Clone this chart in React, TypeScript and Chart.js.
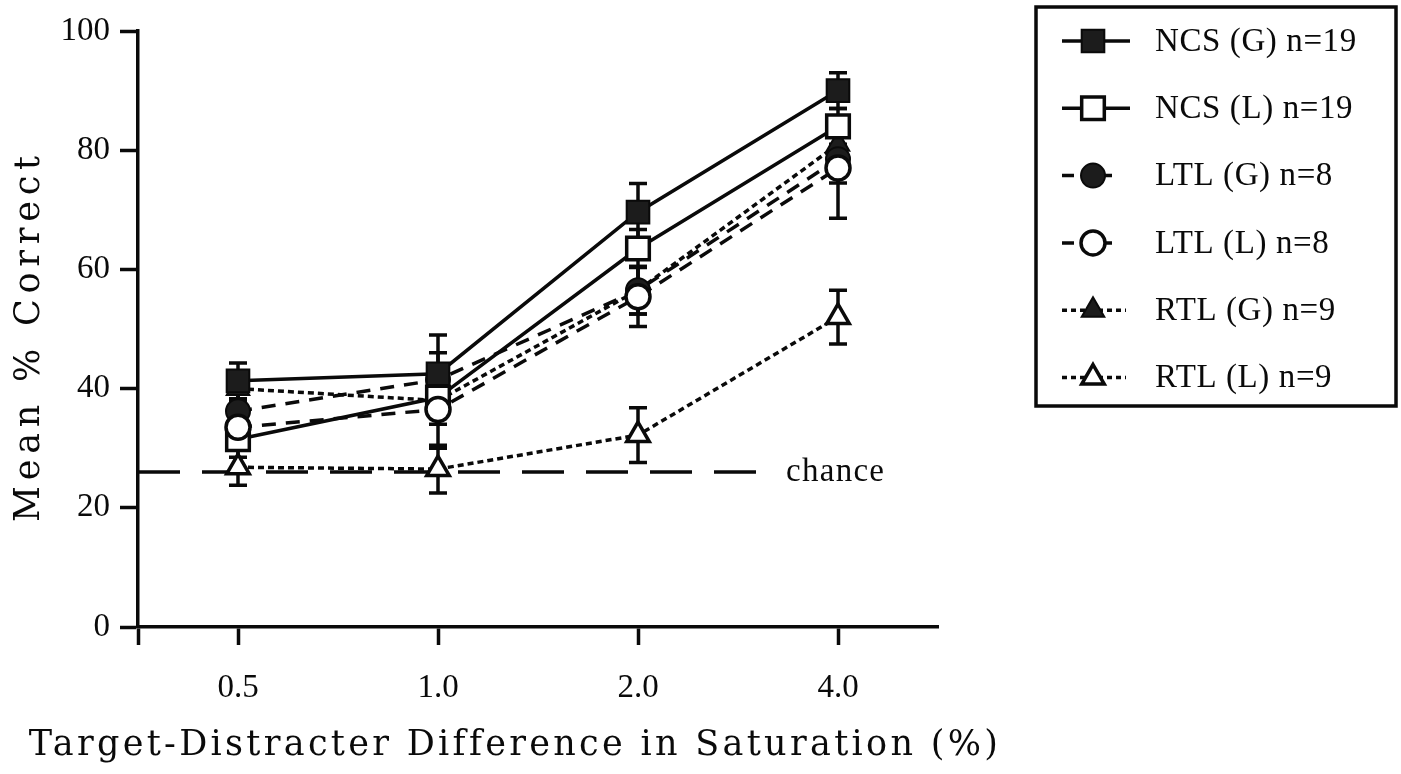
import { useEffect, useRef } from 'react';
import { Chart, registerables } from 'chart.js';

Chart.register(...registerables);

// Saturation differences (%) shown on the x axis
const categories = ['0.5', '1.0', '2.0', '4.0'];

// Mean % correct per group, with ± error
const ncsG = [41.3, 42.5, 69.6, 90.0];
const ncsGErr = [3.0, 3.5, 4.8, 3.0];
const ncsL = [31.5, 38.5, 63.5, 84.0];
const ncsLErr = [3.0, 3.0, 3.2, 3.0];
const ltlG = [36.2, 41.5, 56.5, 78.5];
const ltlGErr = [3.0, 7.5, 4.0, 4.0];
const ltlL = [33.5, 36.5, 55.4, 77.0];
const ltlLErr = [3.5, 6.5, 5.0, 8.4];
const rtlG = [40.0, 38.0, 56.5, 81.0];
const rtlGErr = [2.0, 3.0, 4.0, 3.0];
const rtlL = [26.8, 26.5, 32.2, 52.0];
const rtlLErr = [3.0, 4.0, 4.6, 4.5];

const seriesLabels = [
  'NCS (G) n=19',
  'NCS (L) n=19',
  'LTL (G) n=8',
  'LTL (L) n=8',
  'RTL (G) n=9',
  'RTL (L) n=9',
];

// Chance performance level and the span of its reference line
const chanceLevel = 26;
const chanceSpan = [-0.5, 2.66];

const yTicks = [0, 20, 40, 60, 80, 100];
const xTicks = [-0.5, 0, 1, 2, 3];

const INK = '#0a0a0a';
const SERIF = '"Liberation Serif", "Times New Roman", serif';
const TITLE_SERIF = '"DejaVu Serif", serif';
const LW = 3.5;

const toPoints = (vals: number[]) => vals.map((y, i) => ({ x: i, y }));

type Marker = 'rect' | 'circle' | 'triangle';

function drawMarker(
  ctx: CanvasRenderingContext2D,
  style: Marker,
  x: number,
  y: number,
  r: number,
  fill: string,
  lw: number
) {
  ctx.save();
  ctx.beginPath();
  if (style === 'rect') {
    const s = Math.SQRT1_2 * r;
    ctx.rect(x - s, y - s, 2 * s, 2 * s);
  } else if (style === 'circle') {
    ctx.arc(x, y, r, 0, Math.PI * 2);
  } else {
    let a = 0;
    ctx.moveTo(x + Math.sin(a) * r, y - Math.cos(a) * r);
    a += (2 * Math.PI) / 3;
    ctx.lineTo(x + Math.sin(a) * r, y - Math.cos(a) * r);
    a += (2 * Math.PI) / 3;
    ctx.lineTo(x + Math.sin(a) * r, y - Math.cos(a) * r);
    ctx.closePath();
  }
  ctx.fillStyle = fill;
  ctx.fill();
  ctx.lineWidth = lw;
  ctx.strokeStyle = INK;
  ctx.setLineDash([]);
  ctx.stroke();
  ctx.restore();
}

function fitText(
  ctx: CanvasRenderingContext2D,
  text: string,
  width: number
) {
  (ctx as any).letterSpacing = '0px';
  const w = ctx.measureText(text).width;
  const sp = (width - w) / Math.max(1, text.length - 1);
  (ctx as any).letterSpacing = `${sp}px`;
  return sp;
}

const decorPlugin = {
  id: 'decor',
  beforeDatasetsDraw(chart: any) {
    const { ctx } = chart;
    const xs = chart.scales.x;
    const ys = chart.scales.y;
    ctx.save();
    ctx.strokeStyle = INK;
    ctx.lineWidth = LW;
    ctx.setLineDash([]);
    chart.data.datasets.forEach((ds: any) => {
      if (!ds.errors) return;
      ds.data.forEach((p: any, i: number) => {
        const e = ds.errors[i];
        const px = xs.getPixelForValue(p.x);
        const top = ys.getPixelForValue(p.y + e);
        const bot = ys.getPixelForValue(p.y - e);
        ctx.beginPath();
        ctx.moveTo(px, top);
        ctx.lineTo(px, bot);
        ctx.moveTo(px - 9, top);
        ctx.lineTo(px + 9, top);
        ctx.moveTo(px - 9, bot);
        ctx.lineTo(px + 9, bot);
        ctx.stroke();
      });
    });
    ctx.restore();
  },
  afterDraw(chart: any) {
    const { ctx } = chart;
    const xs = chart.scales.x;
    const ys = chart.scales.y;

    // "chance" label at the end of the chance line
    ctx.save();
    ctx.fillStyle = INK;
    ctx.font = `33px ${SERIF}`;
    ctx.textAlign = 'left';
    ctx.textBaseline = 'middle';
    fitText(ctx, 'chance', 98);
    ctx.fillText(
      'chance',
      xs.getPixelForValue(chanceSpan[1]) + 16,
      ys.getPixelForValue(chanceLevel)
    );
    ctx.restore();

    // Axis titles
    ctx.save();
    ctx.fillStyle = INK;
    ctx.font = `35px ${TITLE_SERIF}`;
    ctx.textAlign = 'center';
    ctx.textBaseline = 'middle';
    const xTitle = 'Target-Distracter Difference in Saturation (%)';
    fitText(ctx, xTitle, 968);
    ctx.fillText(xTitle, 515, 746);
    ctx.restore();

    ctx.save();
    ctx.fillStyle = INK;
    ctx.font = `35px ${TITLE_SERIF}`;
    ctx.textAlign = 'center';
    ctx.textBaseline = 'middle';
    ctx.translate(30, 336);
    ctx.rotate(-Math.PI / 2);
    const yTitle = 'Mean % Correct';
    fitText(ctx, yTitle, 366);
    ctx.fillText(yTitle, 0, 0);
    ctx.restore();

    // Legend box
    ctx.save();
    ctx.strokeStyle = INK;
    ctx.lineWidth = LW;
    ctx.strokeRect(1036, 7, 360, 399);
    const series = chart.data.datasets.filter((d: any) => d.errors);
    series.forEach((ds: any, i: number) => {
      const cy = 41 + i * 67.3;
      const cx = 1093;
      ctx.save();
      ctx.strokeStyle = INK;
      ctx.lineWidth = LW;
      ctx.beginPath();
      if (ds.legendKind === 'solid') {
        ctx.setLineDash([]);
        ctx.moveTo(1062, cy);
        ctx.lineTo(1130, cy);
      } else if (ds.legendKind === 'dashed') {
        ctx.setLineDash([12, 8]);
        ctx.moveTo(1062, cy);
        ctx.lineTo(1112, cy);
      } else {
        ctx.setLineDash([5, 4]);
        ctx.moveTo(1062, cy);
        ctx.lineTo(1126, cy);
      }
      ctx.stroke();
      ctx.restore();
      drawMarker(ctx, ds.pointStyle, cx, cy, ds.pointRadius, ds.pointBackgroundColor, ds.pointBorderWidth);
      ctx.save();
      ctx.fillStyle = INK;
      ctx.font = `33px ${SERIF}`;
      ctx.textAlign = 'left';
      ctx.textBaseline = 'middle';
      (ctx as any).letterSpacing = '0.6px';
      ctx.fillText(ds.label, 1155, cy + 1);
      ctx.restore();
    });
    ctx.restore();
  },
};

export default function App() {
  const canvasRef = useRef<HTMLCanvasElement | null>(null);

  useEffect(() => {
    let chart: Chart | null = null;
    let cancelled = false;

    const build = () => {
      if (cancelled || !canvasRef.current) return;
      const common = {
        borderColor: INK,
        borderWidth: LW,
        pointBorderColor: INK,
        pointHoverRadius: 0,
        fill: false,
        tension: 0,
      };
      chart = new Chart(canvasRef.current, {
        type: 'line',
        data: {
          datasets: [
            {
              ...common,
              label: seriesLabels[0],
              data: toPoints(ncsG),
              errors: ncsGErr,
              legendKind: 'solid',
              pointStyle: 'rect',
              pointRadius: 16,
              pointBackgroundColor: '#1c1c1c',
              pointBorderWidth: 2,
              order: 0,
            },
            {
              ...common,
              label: seriesLabels[1],
              data: toPoints(ncsL),
              errors: ncsLErr,
              legendKind: 'solid',
              pointStyle: 'rect',
              pointRadius: 16,
              pointBackgroundColor: '#ffffff',
              pointBorderWidth: 3.5,
              order: 2,
            },
            {
              ...common,
              label: seriesLabels[2],
              data: toPoints(ltlG),
              errors: ltlGErr,
              legendKind: 'dashed',
              borderDash: [14, 10],
              pointStyle: 'circle',
              pointRadius: 12,
              pointBackgroundColor: '#1c1c1c',
              pointBorderWidth: 2,
              order: 3,
            },
            {
              ...common,
              label: seriesLabels[3],
              data: toPoints(ltlL),
              errors: ltlLErr,
              legendKind: 'dashed',
              borderDash: [14, 10],
              pointStyle: 'circle',
              pointRadius: 12,
              pointBackgroundColor: '#ffffff',
              pointBorderWidth: 3.5,
              order: 1,
            },
            {
              ...common,
              label: seriesLabels[4],
              data: toPoints(rtlG),
              errors: rtlGErr,
              legendKind: 'dotted',
              borderDash: [6, 4],
              pointStyle: 'triangle',
              pointRadius: 13,
              pointBackgroundColor: '#1c1c1c',
              pointBorderWidth: 2,
              order: 5,
            },
            {
              ...common,
              label: seriesLabels[5],
              data: toPoints(rtlL),
              errors: rtlLErr,
              legendKind: 'dotted',
              borderDash: [6, 4],
              pointStyle: 'triangle',
              pointRadius: 13,
              pointBackgroundColor: '#ffffff',
              pointBorderWidth: 3.5,
              order: 4,
            },
            {
              label: 'chance',
              data: chanceSpan.map((x) => ({ x, y: chanceLevel })),
              borderColor: INK,
              borderWidth: LW,
              borderDash: [42, 22],
              pointRadius: 0,
              pointHoverRadius: 0,
              fill: false,
              order: 6,
            },
          ] as any,
        },
        options: {
          animation: false,
          responsive: false,
          maintainAspectRatio: false,
          events: [],
          layout: { padding: { left: 0, top: 31, right: 463, bottom: 0 } },
          plugins: {
            legend: { display: false },
            tooltip: { enabled: false },
            title: { display: false },
          },
          scales: {
            x: {
              type: 'linear',
              min: -0.5,
              max: 3.5,
              afterBuildTicks: (s: any) => {
                s.ticks = xTicks.map((value) => ({ value }));
              },
              afterFit: (s: any) => {
                s.height = 147;
              },
              ticks: {
                autoSkip: false,
                maxRotation: 0,
                padding: 24,
                color: INK,
                font: { family: SERIF, size: 33 },
                callback: (v: any) => categories[v as number] ?? '',
              },
              grid: {
                drawOnChartArea: false,
                drawTicks: true,
                tickLength: 18,
                tickWidth: LW,
                tickColor: INK,
              },
              border: { display: true, color: INK, width: LW },
            },
            y: {
              type: 'linear',
              min: 0,
              max: 100,
              afterBuildTicks: (s: any) => {
                s.ticks = yTicks.map((value) => ({ value }));
              },
              afterFit: (s: any) => {
                s.width = 138;
              },
              ticks: {
                padding: 10,
                color: INK,
                font: { family: SERIF, size: 33 },
              },
              grid: {
                drawOnChartArea: false,
                drawTicks: true,
                tickLength: 18,
                tickWidth: LW,
                tickColor: INK,
              },
              border: { display: true, color: INK, width: LW },
            },
          },
        } as any,
        plugins: [decorPlugin],
      });
    };

    const fonts = (document as any).fonts;
    if (fonts && fonts.load) {
      Promise.all([
        fonts.load(`30px "Liberation Serif"`),
        fonts.load(`30px "DejaVu Serif"`),
      ])
        .catch(() => undefined)
        .then(build);
    } else {
      build();
    }

    return () => {
      cancelled = true;
      if (chart) chart.destroy();
    };
  }, []);

  return (
    <div
      style={{
        position: 'fixed',
        left: 0,
        top: 0,
        width: 1401,
        height: 774,
        background: '#ffffff',
      }}
    >
      <canvas ref={canvasRef} width={1401} height={774} />
    </div>
  );
}
